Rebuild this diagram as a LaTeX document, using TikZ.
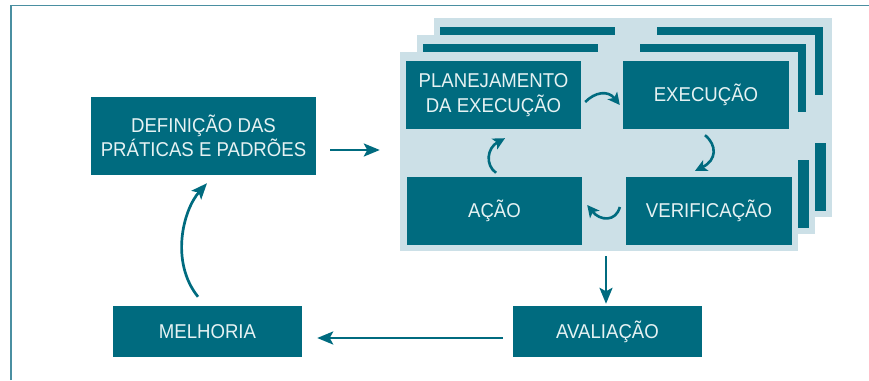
\documentclass[tikz,border=0pt]{standalone}
\usepackage{fontspec}
\setmainfont[FakeStretch=0.93]{Liberation Sans}
\usetikzlibrary{arrows.meta,calc}
\definecolor{tealdark}{HTML}{006B7F}
\definecolor{palebg}{HTML}{CCE0E7}
\definecolor{framecol}{HTML}{4A8FA1}
\definecolor{txtcol}{HTML}{E6F2F3}
\begin{document}
\begin{tikzpicture}[x=1pt,y=-1pt,
  box/.style={fill=tealdark, text=txtcol, inner sep=0pt, align=center,
    font=\fontsize{20}{24.5}\selectfont},
  bigarr/.style={draw=tealdark, line width=2.7pt, -{Stealth[length=16pt,width=13pt,inset=3.5pt]}},
  smallarr/.style={draw=tealdark, line width=2.6pt, -{Stealth[length=12pt,width=12pt,inset=3pt]}}]
\useasboundingbox (0,0) rectangle (869,380);
\draw[framecol, line width=1.5pt] (11,380) -- (11,5.5) -- (869,5.5);
% back layers
\foreach \d in {34,17}{
  \begin{scope}[shift={(\d,-\d)}]
    \fill[palebg] (400,52) rectangle (798,251);
    \fill[tealdark] (406,61) rectangle (581,129);
    \fill[tealdark] (623,61) rectangle (789,129);
    \fill[tealdark] (407,177) rectangle (582,245);
    \fill[tealdark] (626,177) rectangle (792,245);
  \end{scope}
}
% front layer
\node[fill=palebg, minimum width=398pt, minimum height=199pt, inner sep=0pt] (stack) at (599,151.5) {};
\node[box, minimum width=175pt, minimum height=68pt] (plan) at (493.5,95) {PLANEJAMENTO\\DA EXECUÇÃO};
\node[box, minimum width=166pt, minimum height=68pt] (exec) at (706,95) {EXECUÇÃO};
\node[box, minimum width=175pt, minimum height=68pt] (acao) at (494.5,211) {AÇÃO};
\node[box, minimum width=166pt, minimum height=68pt] (verif) at (709,211) {VERIFICAÇÃO};
% outer boxes
\node[box, minimum width=225pt, minimum height=78pt] (def) at (203.5,136) {DEFINIÇÃO DAS\\PRÁTICAS E PADRÕES};
\node[box, minimum width=189pt, minimum height=51pt] (mel) at (207.5,331.5) {MELHORIA};
\node[box, minimum width=189pt, minimum height=51pt] (aval) at (607.5,331.5) {AVALIAÇÃO};
% inner cycle arrows
\coordinate (pe1) at ($(plan.east)+(4,7)$);
\coordinate (pe2) at ($(exec.west)+(-3,10)$);
\draw[smallarr] (pe1) .. controls (595,92) and (608,90) .. (pe2);
\coordinate (ev1) at ($(exec.south)+(-1,6)$);
\coordinate (ev2) at ($(verif.north)+(-14,-6)$);
\draw[smallarr] (ev1) .. controls (717,145) and (717,160) .. (ev2);
\coordinate (va1) at ($(verif.west)+(-6,-4)$);
\coordinate (va2) at ($(acao.east)+(5,-6)$);
\draw[smallarr] (va1) .. controls (616,222) and (600,221) .. (va2);
\coordinate (ap1) at ($(acao.north)+(1.5,-4)$);
\coordinate (ap2) at ($(plan.south)+(11.5,9)$);
\draw[smallarr] (ap1) .. controls (485,165) and (487,148) .. (ap2);
% outer arrows
\draw[bigarr] ($(def.east |- stack.west)+(14,-1.5)$) -- ($(stack.west)+(-20,-1.5)$);
\draw[bigarr] ($(aval.north |- stack.south)+(-1.5,5)$) -- ($(aval.north)+(-1.5,-2)$);
\draw[bigarr] ($(aval.west)+(-10,6.5)$) -- ($(mel.east)+(15,6.5)$);
\coordinate (md1) at ($(mel.north)+(-9.5,-9)$);
\coordinate (md2) at ($(def.south)+(3.5,8)$);
\draw[bigarr] (md1) .. controls (170,262) and (183,210) .. (md2);
\end{tikzpicture}
\end{document}
